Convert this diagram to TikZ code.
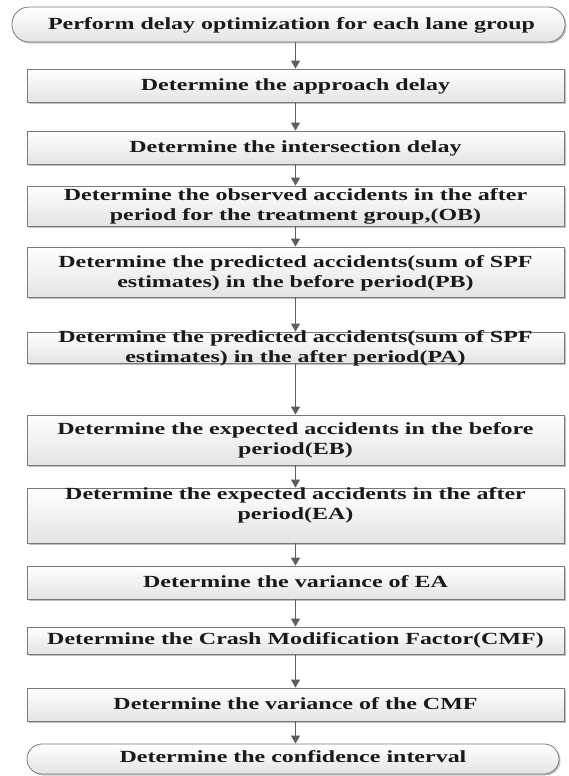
\documentclass[tikz,border=0pt]{standalone}
\usepackage{fontspec}
\setmainfont{Liberation Serif}[FakeStretch=1.41]
\usetikzlibrary{arrows.meta,shadows}
\definecolor{boxline}{HTML}{7A7A7A}
\definecolor{boxbot}{HTML}{E4E4E4}
\definecolor{arrc}{HTML}{5E5E5E}
\definecolor{textc}{HTML}{1A1A1A}
\begin{document}
\begin{tikzpicture}[x=1pt,y=-1pt,
  stepbox/.style={draw=boxline, line width=0.8pt, top color=white, bottom color=boxbot,
    inner sep=0pt, minimum width=537pt,
    drop shadow={shadow xshift=1.5pt, shadow yshift=-1.5pt, fill=black!35, opacity=0.7}},
  termbox/.style={stepbox, rounded corners=17pt},
  txt/.style={align=center, inner sep=0pt, text=textc,
    font=\bfseries\fontsize{17}{20}\selectfont},
  arr/.style={draw=arrc, line width=1.2pt, -{Triangle[length=8pt,width=9pt]}, arrc}]
\useasboundingbox (0,0) rectangle (568,776);
% boxes
\node[termbox, minimum width=553pt, minimum height=35pt] (t1) at (288.5,24.5) {};
\node[stepbox, minimum height=33pt] (b1) at (295.5,85.5) {};
\node[stepbox, minimum height=33pt] (b2) at (295.5,147.5) {};
\node[stepbox, minimum height=40pt] (b3) at (295.5,206) {};
\node[stepbox, minimum height=50pt] (b4) at (295.5,272) {};
\node[stepbox, minimum height=31pt] (b5) at (295.5,347.5) {};
\node[stepbox, minimum height=50pt] (b6) at (295.5,440) {};
\node[stepbox, minimum height=55pt] (b7) at (295.5,515.5) {};
\node[stepbox, minimum height=33pt] (b8) at (295.5,582.5) {};
\node[stepbox, minimum height=27pt] (b9) at (295.5,640.5) {};
\node[stepbox, minimum height=33pt] (b10) at (295.5,704.5) {};
\node[termbox, minimum width=532pt, minimum height=30pt, rounded corners=15pt] (t2) at (293,759) {};
% texts
\node[txt] (x0) at (291.5,25) {Perform delay optimization for each lane group};
\node[txt] (x1) at (295.5,86) {Determine the approach delay};
\node[txt] (x2) at (295.5,148) {Determine the intersection delay};
\node[txt] (x3) at (295.5,206) {Determine the observed accidents in the after\\period for the treatment group,(OB)};
\node[txt] (x4) at (295.5,273) {Determine the predicted accidents(sum of SPF\\estimates) in the before period(PB)};
\node[txt] (x5) at (295.5,348) {Determine the predicted accidents(sum of SPF\\estimates) in the after period(PA)};
\node[txt] (x6) at (295.5,440) {Determine the expected accidents in the before\\period(EB)};
\node[txt] (x7) at (295.5,505) {Determine the expected accidents in the after\\period(EA)};
\node[txt] (x8) at (295.5,582) {Determine the variance of EA};
\node[txt] (x9) at (295.5,640) {Determine the Crash Modification Factor(CMF)};
\node[txt] (x10) at (295.5,704) {Determine the variance of the CMF};
\node[txt] (x11) at (293,757) {Determine the confidence interval};
% connectors
\draw[arr] (b1.north |- t1.south) -- (b1.north);
\draw[arr] (b1.south) -- (b2.north);
\draw[arr] (b2.south) -- (b3.north);
\draw[arr] (b3.south) -- (b4.north);
\draw[arr] (b4.south) -- (b5.north);
\draw[arr] (b5.south) -- (b6.north);
\draw[arr] (b6.south) -- (b7.north);
\draw[arr] (b7.south) -- (b8.north);
\draw[arr] (b8.south) -- (b9.north);
\draw[arr] (b9.south) -- (b10.north);
\draw[arr] (b10.south) -- (b10.south |- t2.north);
\end{tikzpicture}
\end{document}
